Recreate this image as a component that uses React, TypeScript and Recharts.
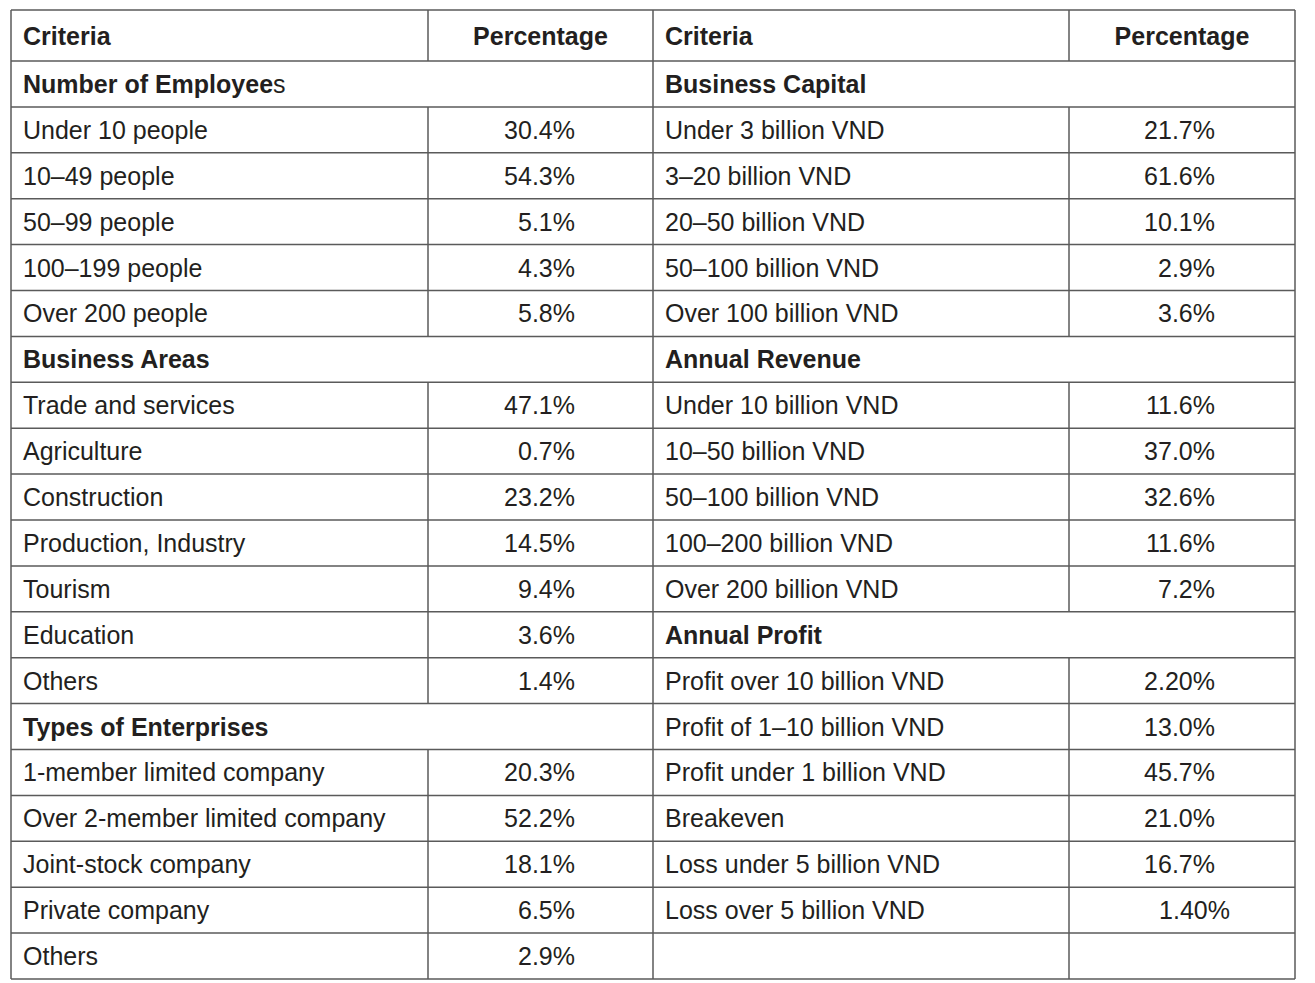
import { ReferenceLine, Scatter, ScatterChart, XAxis, YAxis } from "recharts";

// column headers
const headerLabels = ["Criteria", "Percentage"];

// left half
const employeeGroups = ["Under 10 people", "10–49 people", "50–99 people", "100–199 people", "Over 200 people"];
const employeeShares = ["30.4%", "54.3%", "5.1%", "4.3%", "5.8%"];

const businessAreas = [
  "Trade and services",
  "Agriculture",
  "Construction",
  "Production, Industry",
  "Tourism",
  "Education",
  "Others",
];
const businessAreaShares = ["47.1%", "0.7%", "23.2%", "14.5%", "9.4%", "3.6%", "1.4%"];

const enterpriseTypes = [
  "1-member limited company",
  "Over 2-member limited company",
  "Joint-stock company",
  "Private company",
  "Others",
];
const enterpriseTypeShares = ["20.3%", "52.2%", "18.1%", "6.5%", "2.9%"];

// right half
const capitalGroups = [
  "Under 3 billion VND",
  "3–20 billion VND",
  "20–50 billion VND",
  "50–100 billion VND",
  "Over 100 billion VND",
];
const capitalShares = ["21.7%", "61.6%", "10.1%", "2.9%", "3.6%"];

const revenueGroups = [
  "Under 10 billion VND",
  "10–50 billion VND",
  "50–100 billion VND",
  "100–200 billion VND",
  "Over 200 billion VND",
];
const revenueShares = ["11.6%", "37.0%", "32.6%", "11.6%", "7.2%"];

const profitGroups = [
  "Profit over 10 billion VND",
  "Profit of 1–10 billion VND",
  "Profit under 1 billion VND",
  "Breakeven",
  "Loss under 5 billion VND",
  "Loss over 5 billion VND",
];
const profitShares = ["2.20%", "13.0%", "45.7%", "21.0%", "16.7%", "1.40%"];

// layout (table units = px inside the plot area)
const TABLE_W = 1284;
const TABLE_H = 969;
const HEADER_H = 51;
const ROW_COUNT = 21;
const ROW_H = (TABLE_H - HEADER_H) / (ROW_COUNT - 1);
const COL_EDGES = [0, 417, 642, 1058, TABLE_W];
const VALUE_RIGHT = [564, 1204];
const PAD = 12;
const FONT = '"Liberation Sans", Arial, Helvetica, sans-serif';
const INK = "#231f20";
const RULE = "#5a5a5a";
// the source typeset a few cells slightly off
const VALUE_NUDGE: Record<string, number> = { "Loss over 5 billion VND": 15 };
const REGULAR_TAIL: Record<string, number> = { "Number of Employees": 1 };

type Row = { label: string; value?: string; section?: boolean } | null;

function section(title: string, cats: string[], vals: string[]): Row[] {
  return [{ label: title, section: true }, ...cats.map((c, i) => ({ label: c, value: vals[i] }))];
}

const leftRows: Row[] = [
  ...section("Number of Employees", employeeGroups, employeeShares),
  ...section("Business Areas", businessAreas, businessAreaShares),
  ...section("Types of Enterprises", enterpriseTypes, enterpriseTypeShares),
];

const rightRows: Row[] = [
  ...section("Business Capital", capitalGroups, capitalShares),
  ...section("Annual Revenue", revenueGroups, revenueShares),
  ...section("Annual Profit", profitGroups, profitShares),
  null,
];

const rowTop = (i: number) => (i === 0 ? 0 : HEADER_H + (i - 1) * ROW_H);
const rowMid = (i: number) => (rowTop(i) + rowTop(i + 1)) / 2;

type Cell = { x: number; y: number; text: string; bold?: boolean; anchor: "start" | "middle" | "end" };

const cells: Cell[] = [];
const dividers: { x: number; y1: number; y2: number }[] = [];

[leftRows, rightRows].forEach((rows, s) => {
  const left = COL_EDGES[s * 2];
  const split = COL_EDGES[s * 2 + 1];
  const right = COL_EDGES[s * 2 + 2];
  cells.push({ x: left + PAD, y: rowMid(0), text: headerLabels[0], bold: true, anchor: "start" });
  cells.push({ x: (split + right) / 2, y: rowMid(0), text: headerLabels[1], bold: true, anchor: "middle" });
  dividers.push({ x: split, y1: rowTop(0), y2: rowTop(1) });
  rows.forEach((r, k) => {
    const i = k + 1;
    if (!r || !r.section) dividers.push({ x: split, y1: rowTop(i), y2: rowTop(i + 1) });
    if (!r) return;
    cells.push({ x: left + PAD, y: rowMid(i), text: r.label, bold: r.section, anchor: "start" });
    if (r.value)
      cells.push({
        x: VALUE_RIGHT[s] + (VALUE_NUDGE[r.label] ?? 0),
        y: rowMid(i),
        text: r.value,
        anchor: "end",
      });
  });
});

const rowEdges = Array.from({ length: ROW_COUNT + 1 }, (_, i) => rowTop(i));

function CellText(props: any) {
  const { cx, cy, payload } = props;
  const tail = REGULAR_TAIL[payload.text] ?? 0;
  const head = tail ? payload.text.slice(0, -tail) : payload.text;
  return (
    <text
      x={cx}
      y={cy}
      dy={9}
      textAnchor={payload.anchor}
      fontFamily={FONT}
      fontSize={25}
      fontWeight={payload.bold ? 700 : 400}
      fill={INK}
    >
      {head}
      {tail ? <tspan fontWeight={400}>{payload.text.slice(-tail)}</tspan> : null}
    </text>
  );
}

export default function App() {
  return (
    <div style={{ position: "absolute", left: 0, top: 0, background: "#fff" }}>
      <ScatterChart width={1315} height={983} margin={{ top: 10, right: 20, bottom: 4, left: 11 }}>
        <XAxis type="number" dataKey="x" domain={[0, TABLE_W]} allowDataOverflow hide />
        <YAxis type="number" dataKey="y" domain={[0, TABLE_H]} allowDataOverflow reversed hide />
        {rowEdges.map((y, i) => (
          <ReferenceLine
            key={`h${i}`}
            segment={[{ x: 0, y }, { x: TABLE_W, y }]}
            stroke={RULE}
            strokeWidth={1.5}
            ifOverflow="visible"
          />
        ))}
        {[0, COL_EDGES[2], TABLE_W].map((x) => (
          <ReferenceLine
            key={`v${x}`}
            segment={[{ x, y: 0 }, { x, y: TABLE_H }]}
            stroke={RULE}
            strokeWidth={1.5}
            ifOverflow="visible"
          />
        ))}
        {dividers.map((d, i) => (
          <ReferenceLine
            key={`d${i}`}
            segment={[{ x: d.x, y: d.y1 }, { x: d.x, y: d.y2 }]}
            stroke={RULE}
            strokeWidth={1.5}
            ifOverflow="visible"
          />
        ))}
        <Scatter data={cells} shape={CellText} isAnimationActive={false} />
      </ScatterChart>
    </div>
  );
}
